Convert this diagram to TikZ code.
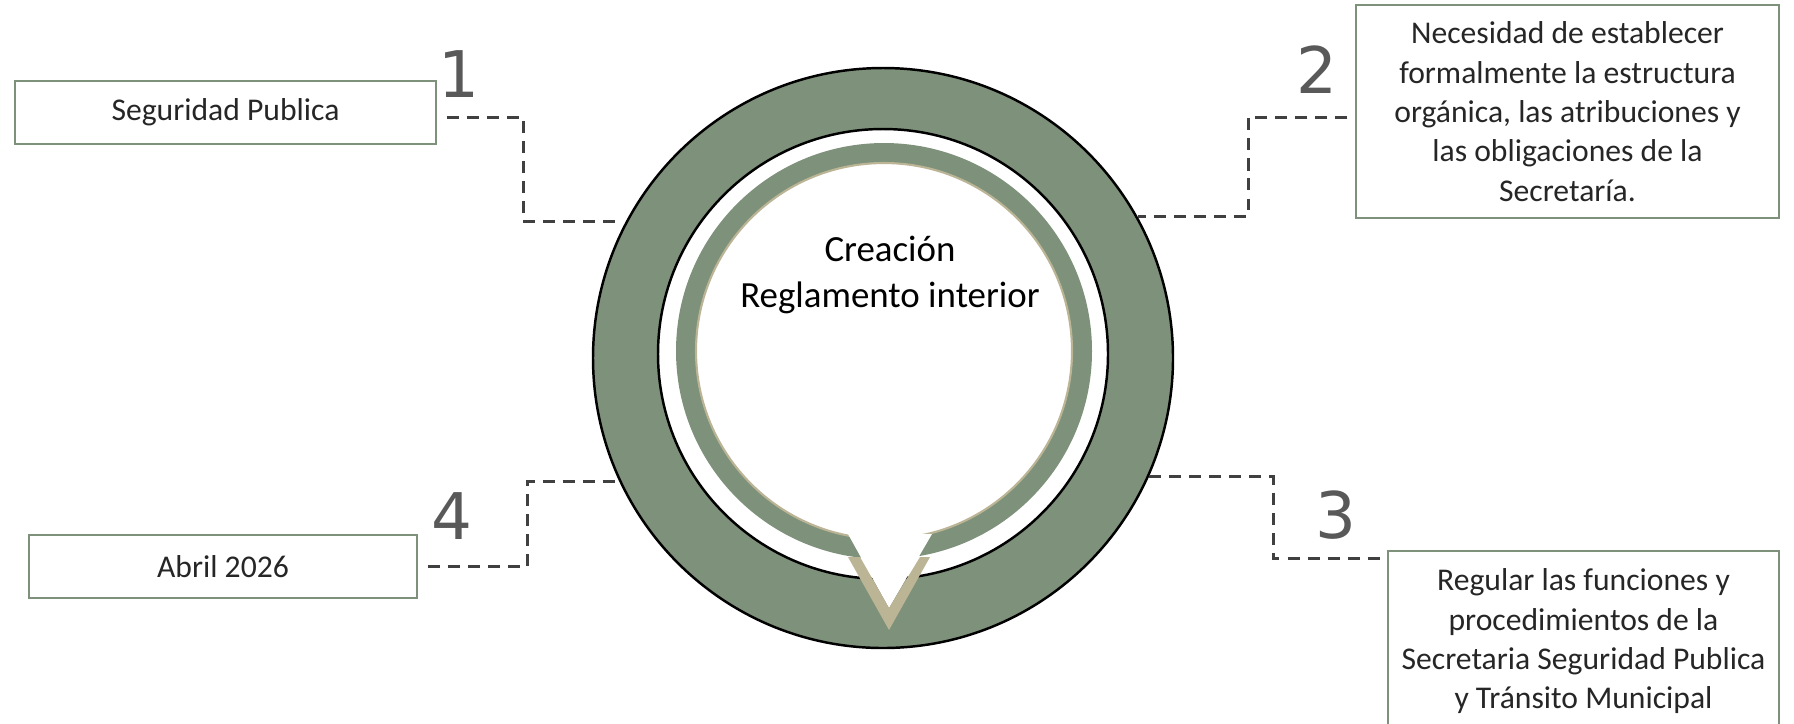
\documentclass[tikz,border=0pt]{standalone}
\usepackage{fontspec}
\setmainfont{Carlito}
\newfontfamily\numfont{DejaVu Sans}
\usetikzlibrary{positioning}
\definecolor{sage}{HTML}{7E917A}
\definecolor{sand}{HTML}{BBB596}
\definecolor{dashgray}{HTML}{404040}
\definecolor{numgray}{HTML}{595959}
\definecolor{textgray}{HTML}{262626}

\begin{document}
\begin{tikzpicture}[x=0.1mm,y=-0.1mm,
    infobox/.style={draw=sage,line width=0.4pt,fill=white,text=textgray,align=center,inner sep=0pt,font=\fontsize{9}{11.2}\selectfont},
    stepnum/.style={text=numgray,inner sep=0pt,font=\numfont\fontsize{18.3}{20}\selectfont},
    link/.style={draw=dashgray,line width=0.85pt,dash pattern=on 3.4pt off 2.3pt}]

      \useasboundingbox (0,0) rectangle (1794,723);

      \node[circle,draw,fill=sage,line width=0.7pt,minimum size=58mm,inner sep=0pt] (ring) at (883,358) {};
      \draw[fill=white,line width=0.7pt] (883,354) circle[radius=22.5mm];
      \fill[sage] (884,351) circle[radius=20.8mm];
      \draw[sand,fill=white,line width=0.6pt] (884,351) circle[radius=18.8mm];
      \fill[white] (848,534) -- (932,534) -- (889,608) -- cycle;
      \fill[sand] (848,557) -- (889,630) -- (930,557) -- (920,557) -- (889,608) -- (860,557) -- cycle;

      \node[align=center,font=\fontsize{10.5}{13.1}\selectfont] (title) at (890,275) {Creación\\Reglamento interior};

      \node[infobox,minimum width=42.1mm,minimum height=6.3mm] (seg) at (225.5,112.5) {Seguridad Publica};
      \node[infobox,minimum width=42.3mm,minimum height=21.3mm] (need) at (1567.5,111.5)
        {Necesidad de establecer\\formalmente la estructura\\orgánica, las atribuciones y\\las obligaciones de la\\Secretaría.};
      \node[infobox,minimum width=39.1mm,minimum height=18.1mm] (rule) at (1583.5,641.5)
        {Regular las funciones y\\procedimientos de la\\Secretaria Seguridad Publica\\y Tránsito Municipal};
      \node[infobox,minimum width=38.8mm,minimum height=6.3mm] (date) at (223,566.5) {Abril 2026};

      \node[stepnum] (n1) at (459,74) {1};
      \node[stepnum] (n2) at (1317,70) {2};
      \node[stepnum] (n3) at (1336,515) {3};
      \node[stepnum] (n4) at (452,516) {4};

      \coordinate (bend1) at (523,170);
      \coordinate (bend2) at (1248,170);
      \coordinate (bend3) at (1273,520);
      \coordinate (bend4) at (527,520);

      \draw[link] ([shift={(10,5)}]seg.east) -| (bend1) |- ([xshift=-1mm]ring.152.3);
      \draw[link] ([shift={(-8,6)}]need.west) -| (bend2) |- (ring.29);
      \draw[link] (ring.-24.5) -| (bend3) |- ([shift={(-7,8)}]rule.north west);
      \draw[link] ([shift={(10,0)}]date.east) -| (bend4) |- (ring.205);
    \end{tikzpicture}
\end{document}
